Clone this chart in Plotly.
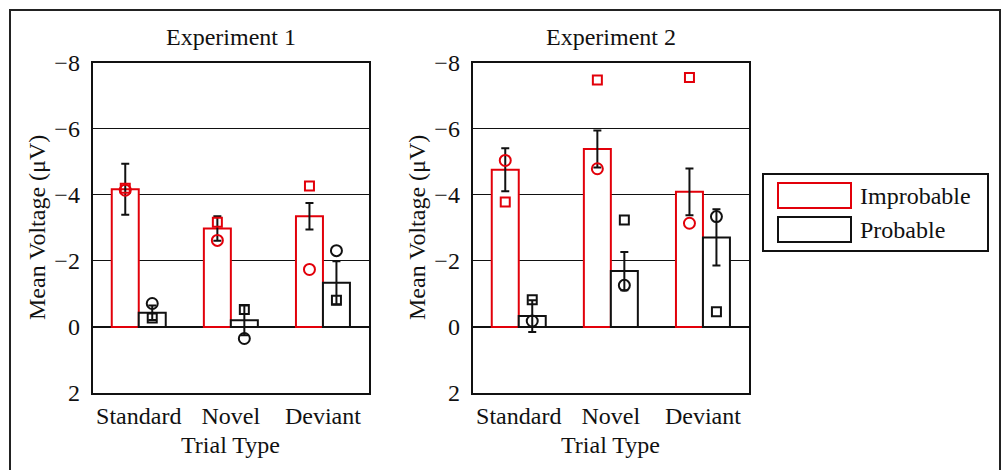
import plotly.graph_objects as go

categories = ["Standard", "Novel", "Deviant"]
conditions = ["Improbable", "Probable"]

# Experiment 1
exp1_improb_mean = [-4.17, -2.98, -3.35]
exp1_improb_se = [0.77, 0.37, 0.40]
exp1_improb_circle = [-4.14, -2.62, -1.74]
exp1_improb_square = [-4.20, -3.17, -4.27]
exp1_prob_mean = [-0.43, -0.20, -1.34]
exp1_prob_se = [0.22, 0.45, 0.65]
exp1_prob_circle = [-0.71, 0.35, -2.31]
exp1_prob_square = [-0.27, -0.53, -0.81]

# Experiment 2
exp2_improb_mean = [-4.76, -5.39, -4.09]
exp2_improb_se = [0.65, 0.56, 0.71]
exp2_improb_circle = [-5.04, -4.79, -3.14]
exp2_improb_square = [-3.78, -7.48, -7.55]
exp2_prob_mean = [-0.33, -1.69, -2.71]
exp2_prob_se = [0.48, 0.58, 0.85]
exp2_prob_circle = [-0.18, -1.26, -3.34]
exp2_prob_square = [-0.82, -3.24, -0.46]

y_ticks = [-8, -6, -4, -2, 0, 2]
titles = ["Experiment 1", "Experiment 2"]
y_title = "Mean Voltage (μV)"
x_title = "Trial Type"

RED = "rgb(226,0,10)"
BLACK = "#111111"
FONT = "Liberation Serif, Times New Roman, serif"
W, H = 1001, 470
BW = 0.293

def px(x):
    return x / W

def py(y):
    return 1 - y / H

fig = go.Figure()

experiments = [
    (exp1_improb_mean, exp1_improb_se, exp1_improb_circle, exp1_improb_square,
     exp1_prob_mean, exp1_prob_se, exp1_prob_circle, exp1_prob_square),
    (exp2_improb_mean, exp2_improb_se, exp2_improb_circle, exp2_improb_square,
     exp2_prob_mean, exp2_prob_se, exp2_prob_circle, exp2_prob_square),
]

xs = list(range(len(categories)))
for k, ex in enumerate(experiments):
    xa = "x" if k == 0 else "x2"
    ya = "y" if k == 0 else "y2"
    im, ise, ic, isq, pm, pse, pc, psq = ex
    for mean, se, circ, sq, color, off, name in [
        (im, ise, ic, isq, RED, -BW, "Improbable"),
        (pm, pse, pc, psq, BLACK, 0.0, "Probable"),
    ]:
        fig.add_trace(go.Bar(
            x=xs, y=mean, width=BW, offset=off, name=name,
            marker=dict(color="white", line=dict(color=color, width=2)),
            error_y=dict(type="data", array=se, visible=True, color=BLACK,
                         thickness=2, width=4),
            xaxis=xa, yaxis=ya, showlegend=False,
        ))
        cx = [x + off + BW / 2 for x in xs]
        fig.add_trace(go.Scatter(
            x=cx, y=circ, mode="markers",
            marker=dict(symbol="circle-open", size=11, color=color,
                        line=dict(color=color, width=2)),
            xaxis=xa, yaxis=ya, showlegend=False,
        ))
        fig.add_trace(go.Scatter(
            x=cx, y=sq, mode="markers",
            marker=dict(symbol="square-open", size=9, color=color,
                        line=dict(color=color, width=2)),
            xaxis=xa, yaxis=ya, showlegend=False,
        ))

ydom = [py(393), py(62.7)]
xdoms = [[px(92.7), px(369)], [px(472.7), px(749)]]

axis_common_x = dict(
    range=[-0.5, 2.5], tickvals=xs, ticktext=categories, showgrid=False,
    zeroline=False, showline=True, mirror=True, linecolor=BLACK, linewidth=2,
    ticks="", tickfont=dict(family=FONT, size=24, color=BLACK),
    ticklabelstandoff=0, automargin=False,
)
axis_common_y = dict(
    range=[2, -8], tickvals=y_ticks, showgrid=True, gridcolor=BLACK, gridwidth=1,
    zeroline=True, zerolinecolor=BLACK, zerolinewidth=2,
    showline=True, mirror=True, linecolor=BLACK, linewidth=2,
    ticks="", tickfont=dict(family=FONT, size=24, color=BLACK),
    ticklabelstandoff=6, automargin=False,
)

fig.update_layout(
    width=W, height=H, margin=dict(l=0, r=0, t=0, b=0, pad=0, autoexpand=False),
    paper_bgcolor="white", plot_bgcolor="white",
    barmode="overlay", showlegend=False,
    xaxis=dict(domain=xdoms[0], anchor="y", **axis_common_x),
    yaxis=dict(domain=ydom, anchor="x", **axis_common_y),
    xaxis2=dict(domain=xdoms[1], anchor="y2", **axis_common_x),
    yaxis2=dict(domain=ydom, anchor="x2", **axis_common_y),
)

annotations = []
shapes = []
for k in range(2):
    cx = (xdoms[k][0] + xdoms[k][1]) / 2
    off = 0 if k == 0 else 380
    annotations.append(dict(text=titles[k], x=cx, y=py(37), xref="paper", yref="paper",
                            showarrow=False, xanchor="center", yanchor="middle",
                            font=dict(family=FONT, size=24, color=BLACK)))
    annotations.append(dict(text=x_title, x=cx, y=py(445), xref="paper", yref="paper",
                            showarrow=False, xanchor="center", yanchor="middle",
                            font=dict(family=FONT, size=24, color=BLACK)))
    annotations.append(dict(text=y_title, x=px(37 + off), y=py(228), xref="paper", yref="paper",
                            showarrow=False, xanchor="center", yanchor="middle", textangle=-90,
                            font=dict(family=FONT, size=24, color=BLACK)))

# legend (custom)
shapes.append(dict(type="rect", xref="paper", yref="paper",
                   x0=px(763), x1=px(988), y0=py(251), y1=py(174),
                   line=dict(color=BLACK, width=2), fillcolor="white", layer="above"))
for i, (name, color) in enumerate([("Improbable", RED), ("Probable", BLACK)]):
    y0 = 183 + i * 34
    shapes.append(dict(type="rect", xref="paper", yref="paper",
                       x0=px(778), x1=px(851), y0=py(y0 + 25), y1=py(y0),
                       line=dict(color=color, width=2), fillcolor="white", layer="above"))
    annotations.append(dict(text=name, x=px(858), y=py(y0 + 12.5), xref="paper", yref="paper",
                            showarrow=False, xanchor="left", yanchor="middle",
                            font=dict(family=FONT, size=24, color=BLACK)))

# outer frame
shapes.append(dict(type="rect", xref="paper", yref="paper",
                   x0=px(10), x1=px(1000), y0=-0.1, y1=py(10),
                   line=dict(color="#222222", width=2), layer="above"))

fig.update_layout(annotations=annotations, shapes=shapes)

fig.write_html("out.html")
